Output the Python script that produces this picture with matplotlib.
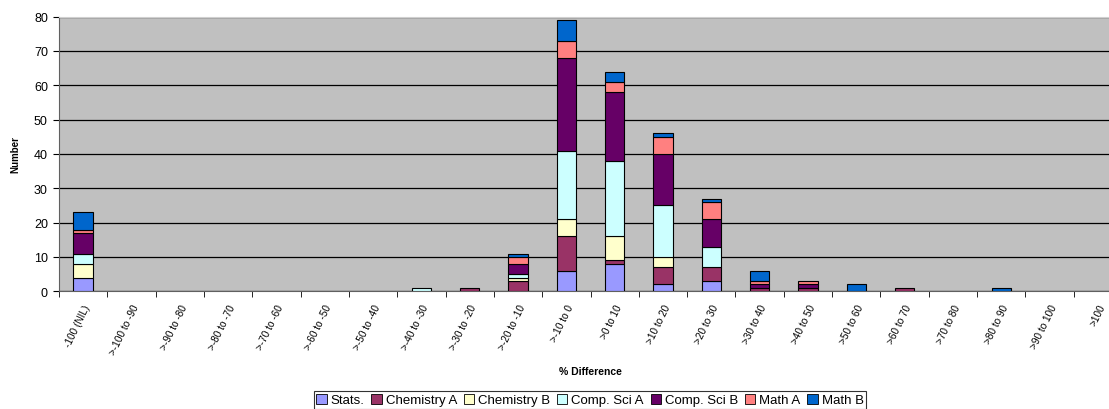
import numpy as np
import matplotlib
matplotlib.use("Agg")
import matplotlib.pyplot as plt
from matplotlib.patches import Patch

plt.rcParams['font.family'] = ['Liberation Sans', 'DejaVu Sans']

categories = ["-100 (NIL)", ">-100 to -90", ">-90 to -80", ">-80 to -70", ">-70 to -60",
              ">-60 to -50", ">-50 to -40", ">-40 to -30", ">-30 to -20", ">-20 to -10",
              ">-10 to 0", ">0 to 10", ">10 to 20", ">20 to 30", ">30 to 40",
              ">40 to 50", ">50 to 60", ">60 to 70", ">70 to 80", ">80 to 90",
              ">90 to 100", ">100"]

stats        = [4, 0, 0, 0, 0, 0, 0, 0, 0, 0, 6, 8, 2, 3, 0, 0, 0, 0, 0, 0, 0, 0]
chemistry_a  = [0, 0, 0, 0, 0, 0, 0, 0, 1, 3, 10, 1, 5, 4, 1, 1, 0, 1, 0, 0, 0, 0]
chemistry_b  = [4, 0, 0, 0, 0, 0, 0, 0, 0, 1, 5, 7, 3, 0, 0, 0, 0, 0, 0, 0, 0, 0]
comp_sci_a   = [3, 0, 0, 0, 0, 0, 0, 1, 0, 1, 20, 22, 15, 6, 0, 0, 0, 0, 0, 0, 0, 0]
comp_sci_b   = [6, 0, 0, 0, 0, 0, 0, 0, 0, 3, 27, 20, 15, 8, 1, 1, 0, 0, 0, 0, 0, 0]
math_a       = [1, 0, 0, 0, 0, 0, 0, 0, 0, 2, 5, 3, 5, 5, 1, 1, 0, 0, 0, 0, 0, 0]
math_b       = [5, 0, 0, 0, 0, 0, 0, 0, 0, 1, 6, 3, 1, 1, 3, 0, 2, 0, 0, 1, 0, 0]

series = [
    ("Stats.", stats, "#9999FF"),
    ("Chemistry A", chemistry_a, "#993366"),
    ("Chemistry B", chemistry_b, "#FFFFCC"),
    ("Comp. Sci A", comp_sci_a, "#CCFFFF"),
    ("Comp. Sci B", comp_sci_b, "#660066"),
    ("Math A", math_a, "#FF8080"),
    ("Math B", math_b, "#0066CC"),
]

fig = plt.figure(figsize=(11.09, 4.10), dpi=100)
# plot area runs slightly past the right edge of the canvas
ax = fig.add_axes([59 / 1109, 0.287, 1063 / 1109, 0.670])
ax.set_facecolor("#C0C0C0")

x = np.arange(len(categories))
bottom = np.zeros(len(categories))
handles = []
for name, vals, color in series:
    vals = np.array(vals, dtype=float)
    nz = vals > 0
    ax.bar(x[nz], vals[nz], width=0.4, bottom=bottom[nz], color=color,
           edgecolor="black", linewidth=0.8, zorder=3)
    bottom += vals
    handles.append(Patch(facecolor=color, edgecolor="black", linewidth=0.6, label=name))

ax.set_xlim(-0.5, len(categories) - 0.5)
ax.set_ylim(0, 80)
ax.set_yticks(np.arange(0, 81, 10))
ax.yaxis.grid(True, color="black", linewidth=0.9, zorder=1)
ax.set_axisbelow(True)

ax.set_xticks(x)
ax.set_xticklabels(categories, rotation=64, ha="right", va="top",
                   rotation_mode="anchor", fontsize=7.2)
ax.set_xticks(np.arange(-0.5, len(categories), 1), minor=True)
ax.tick_params(axis="x", which="major", length=0, pad=8)
ax.tick_params(axis="x", which="minor", length=4, direction="out", color="black")
ax.tick_params(axis="y", length=4, direction="out", labelsize=9, pad=4)

ax.spines["right"].set_visible(False)
ax.spines["top"].set_color("#D0D0D0")
ax.spines["left"].set_color("#606060")
ax.spines["bottom"].set_color("#606060")

ax.set_ylabel("Number", fontsize=7, fontweight="bold", labelpad=10)
fig.text(0.532, 0.093, "% Difference", ha="center", va="center",
         fontsize=7.5, fontweight="bold")

leg = fig.legend(handles=handles, loc="center", bbox_to_anchor=(0.532, 0.022),
                 ncol=7, fontsize=9.5, frameon=True, fancybox=False,
                 edgecolor="black", handlelength=0.8, handleheight=0.8,
                 handletextpad=0.3, columnspacing=0.5, borderpad=0.2)
leg.get_frame().set_linewidth(0.8)

fig.savefig("out.png", dpi=100)
